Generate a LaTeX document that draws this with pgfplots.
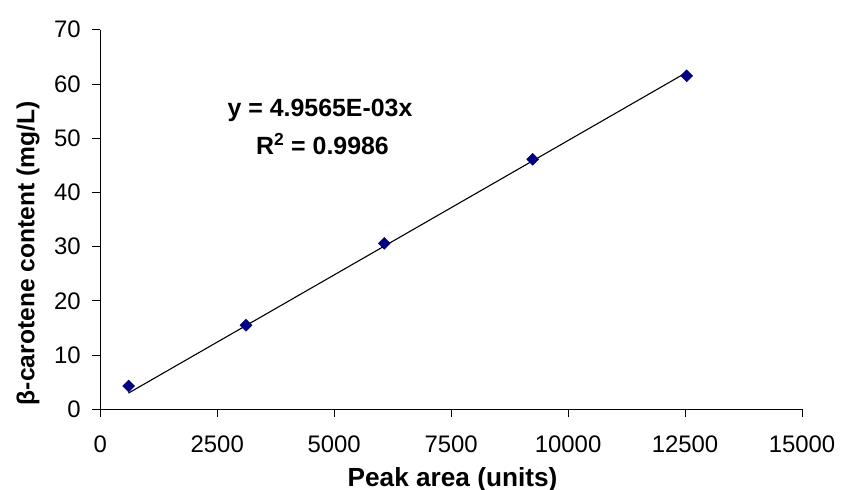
\documentclass[border=0pt]{standalone}
\usepackage{fontspec}
\setmainfont{Liberation Sans}
\usepackage{pgfplots}
\pgfplotsset{compat=1.18}
\definecolor{navy}{RGB}{0,0,128}
\begin{document}
\begin{tikzpicture}
\begin{axis}[
  scale only axis, width=701.7bp, height=379.6bp,
  xmin=0, xmax=15000, ymin=0, ymax=70,
  scaled x ticks=false, scaled y ticks=false,
  xtick={0,2500,5000,7500,10000,12500,15000},
  xticklabels={0,2500,5000,7500,10000,12500,15000},
  ytick={0,10,20,30,40,50,60,70},
  yticklabels={0,10,20,30,40,50,60,70},
  axis x line*=bottom, axis y line*=left,
  xtick pos=bottom, ytick pos=left,
  tick align=outside, major tick length=8bp,
  axis line style={black, line width=0.8bp},
  tick style={black, line width=0.8bp},
  xticklabel style={font=\fontsize{24}{28}\selectfont, yshift=-15bp},
  yticklabel style={font=\fontsize{24}{28}\selectfont, xshift=-8bp},
  xlabel={\bfseries Peak area (units)},
  xlabel style={at={(axis description cs:0.502,-0.204)}, anchor=base, font=\fontsize{26.3}{30}\selectfont},
  ylabel={\bfseries β-carotene content (mg/L)},
  ylabel style={at={(axis description cs:-0.103,0.411)}, anchor=center, font=\fontsize{24.7}{28}\selectfont},
  clip=false,
]
\coordinate (sw) at (rel axis cs:0,0);
\coordinate (ne) at (rel axis cs:1,1);
\addplot[only marks, mark=square*, mark size=4.25bp, mark options={rotate=45, fill=navy, draw=navy}]
  coordinates {(605,4.3) (3115,15.5) (6071,30.6) (9243,46.1) (12535,61.5)};
\addplot[black, line width=1.1bp] coordinates {(600,2.974) (12535,62.13)};
\node[font=\fontsize{25}{29}\selectfont\bfseries, anchor=base] at (axis cs:4697,53.95) {y = 4.9565E-03x};
\node[font=\fontsize{25}{29}\selectfont\bfseries, anchor=base] at (axis cs:4750,47.0) {R\textsuperscript{2} = 0.9986};
\end{axis}
\pgfresetboundingbox
\path[use as bounding box] ([shift={(-100.3bp,-80.7bp)}]sw) rectangle ([shift={(40bp,29.7bp)}]ne);
\end{tikzpicture}
\end{document}
